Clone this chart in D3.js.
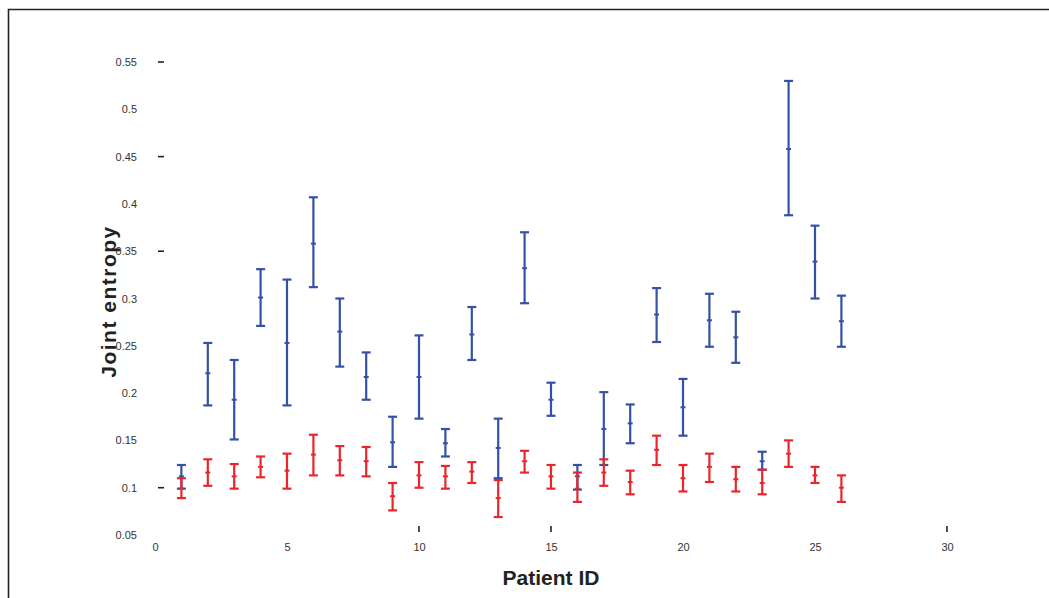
<!DOCTYPE html>
<html>
<head>
<meta charset="utf-8">
<script src="https://cdn.jsdelivr.net/npm/d3@7"></script>
<style>
  html, body { margin: 0; padding: 0; background: #fff; }
  svg { display: block; }
  .tick-label { font-family: "Liberation Sans Narrow", "Liberation Sans", Arial, sans-serif; font-size: 11px; fill: #333; }
  .axis-title { font-family: "Liberation Sans Narrow", "Liberation Sans", Arial, sans-serif; font-size: 21px; font-weight: bold; fill: #222; }
</style>
</head>
<body>
<script>
// Patient IDs along the x axis
const patients = [1,2,3,4,5,6,7,8,9,10,11,12,13,14,15,16,17,18,19,20,21,22,23,24,25,26];

// Blue series: mean joint entropy and error-bar limits
const blueMean = [0.112,0.221,0.193,0.301,0.253,0.358,0.265,0.217,0.148,0.217,0.147,0.262,0.142,0.332,0.193,0.112,0.162,0.168,0.283,0.185,0.277,0.259,0.128,0.458,0.339,0.276];
const blueLow  = [0.099,0.187,0.151,0.271,0.187,0.312,0.228,0.193,0.122,0.173,0.133,0.235,0.110,0.295,0.176,0.098,0.124,0.147,0.254,0.155,0.249,0.232,0.119,0.388,0.300,0.249];
const blueHigh = [0.124,0.253,0.235,0.331,0.320,0.407,0.300,0.243,0.175,0.261,0.162,0.291,0.173,0.370,0.211,0.124,0.201,0.188,0.311,0.215,0.305,0.286,0.138,0.530,0.377,0.303];

// Red series: mean joint entropy and error-bar limits
const redMean = [0.099,0.116,0.112,0.122,0.118,0.135,0.129,0.128,0.091,0.113,0.112,0.117,0.089,0.128,0.112,0.099,0.116,0.106,0.140,0.110,0.122,0.109,0.105,0.136,0.113,0.100];
const redLow  = [0.089,0.102,0.099,0.111,0.099,0.113,0.113,0.112,0.076,0.100,0.099,0.105,0.069,0.116,0.099,0.085,0.102,0.093,0.124,0.096,0.106,0.096,0.093,0.122,0.105,0.085];
const redHigh = [0.110,0.130,0.125,0.133,0.136,0.156,0.144,0.143,0.105,0.127,0.123,0.127,0.108,0.139,0.124,0.116,0.130,0.118,0.155,0.124,0.136,0.122,0.119,0.150,0.122,0.113];

// Axis tick values and labels
const xTicks = [0,5,10,15,20,25,30];
const yTicks = [0.05,0.1,0.15,0.2,0.25,0.3,0.35,0.4,0.45,0.5,0.55];
const yTickLabels = ["0.05","0.1","0.15","0.2","0.25","0.3","0.35","0.4","0.45","0.5","0.55"];
// Short tick marks that are visible on each axis
const yTickMarks = [0.55,0.45,0.35,0.1];
const xTickMarks = [10,15,30];

const W = 1049, H = 598;
const svg = d3.select("body").append("svg").attr("width", W).attr("height", H);

// Outer frame (top and left edges)
svg.append("path")
  .attr("d", `M8.5,${H} L8.5,9.5 L${W},9.5`)
  .attr("fill", "none").attr("stroke", "#222").attr("stroke-width", 1.6);

const x = d3.scaleLinear().domain([0, 30]).range([155, 947]);
const y = d3.scaleLinear().domain([0.05, 0.55]).range([535, 62]);

// Y tick labels
const yAxis = d3.axisLeft(y).tickValues(yTicks).tickSize(0).tickPadding(0)
  .tickFormat((d, i) => yTickLabels[i]);
const gy = svg.append("g").attr("transform", "translate(137,0)").call(yAxis);
gy.select(".domain").remove();
gy.selectAll("text").attr("class", "tick-label").attr("fill", null);

// X tick labels
const xAxis = d3.axisBottom(x).tickValues(xTicks).tickSize(0).tickPadding(0)
  .tickFormat(d3.format("d"));
const gx = svg.append("g").attr("transform", "translate(0,543)").call(xAxis);
gx.select(".domain").remove();
gx.selectAll("text").attr("class", "tick-label").attr("fill", null);

// Small tick marks
svg.append("g").selectAll("line").data(yTickMarks).join("line")
  .attr("x1", 158).attr("x2", 164)
  .attr("y1", d => y(d)).attr("y2", d => y(d))
  .attr("stroke", "#222").attr("stroke-width", 1.6);
svg.append("g").selectAll("line").data(xTickMarks).join("line")
  .attr("x1", d => x(d)).attr("x2", d => x(d))
  .attr("y1", 526).attr("y2", 532)
  .attr("stroke", "#222").attr("stroke-width", 1.6);

// Error bars with centre markers
function drawSeries(mean, low, high, color) {
  const g = svg.append("g").attr("stroke", color).attr("fill", color);
  const cap = 4.5;
  patients.forEach((p, i) => {
    const px = x(p);
    g.append("line").attr("x1", px).attr("x2", px)
      .attr("y1", y(low[i])).attr("y2", y(high[i])).attr("stroke-width", 2.2);
    g.append("line").attr("x1", px - cap).attr("x2", px + cap)
      .attr("y1", y(high[i])).attr("y2", y(high[i])).attr("stroke-width", 2.2);
    g.append("line").attr("x1", px - cap).attr("x2", px + cap)
      .attr("y1", y(low[i])).attr("y2", y(low[i])).attr("stroke-width", 2.2);
    g.append("line").attr("x1", px - 2.5).attr("x2", px + 2.5)
      .attr("y1", y(mean[i])).attr("y2", y(mean[i])).attr("stroke-width", 2);
  });
}
drawSeries(blueMean, blueLow, blueHigh, "#3451a8");
drawSeries(redMean, redLow, redHigh, "#e8262c");

// Axis titles
svg.append("text").attr("class", "axis-title")
  .attr("x", (x(0) + x(30)) / 2).attr("y", 585)
  .attr("text-anchor", "middle").text("Patient ID");
svg.append("text").attr("class", "axis-title")
  .attr("transform", `translate(116,${(y(0.05) + y(0.55)) / 2 + 3}) rotate(-90)`)
  .attr("letter-spacing", 1.5)
  .attr("text-anchor", "middle").text("Joint entropy");
</script>
</body>
</html>
